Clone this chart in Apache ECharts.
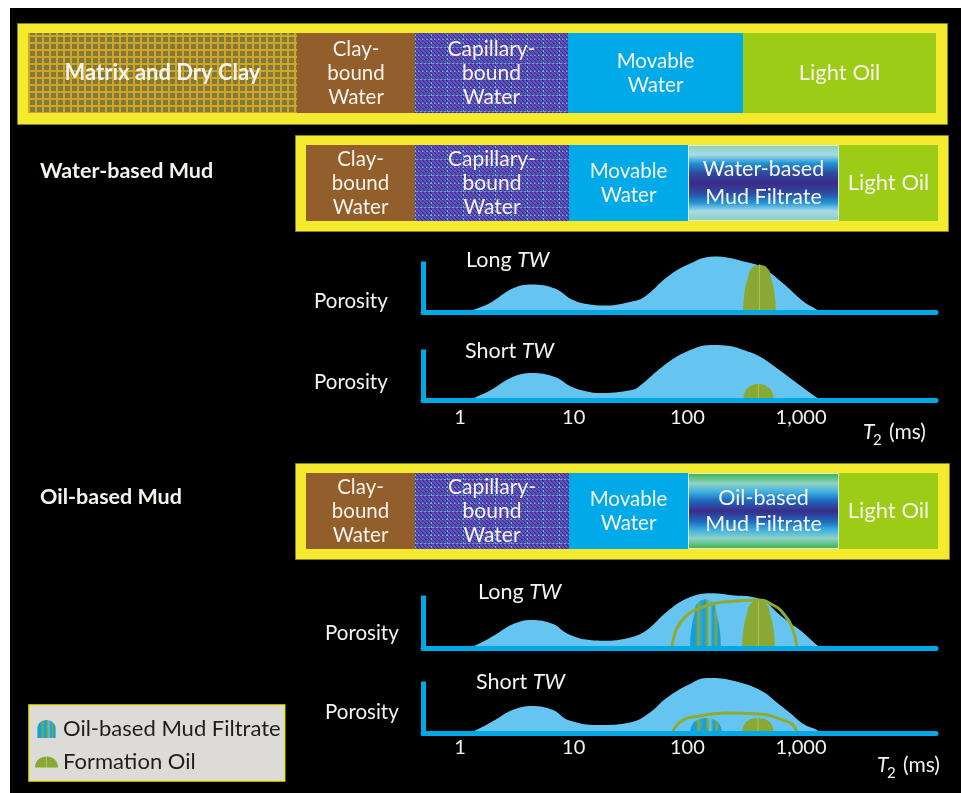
<!DOCTYPE html>
<html><head><meta charset="utf-8">
<script src="https://cdn.jsdelivr.net/npm/echarts@6.0.0/dist/echarts.min.js"></script>
<style>html,body{margin:0;padding:0;background:#fff;}#c{width:961px;height:793px;}</style>
</head><body><div id="c"></div>
<script>
// ================= DATA =================
const topSegments = ['Matrix and Dry Clay', 'Clay-\nbound\nWater', 'Capillary-\nbound\nWater', 'Movable\nWater', 'Light Oil'];
const topWidths = [269, 118, 153, 175, 193];
const wbmSegments = ['Clay-\nbound\nWater', 'Capillary-\nbound\nWater', 'Movable\nWater', 'Water-based\nMud Filtrate', 'Light Oil'];
const wbmWidths = [109, 154, 119, 151, 99];
const obmSegments = ['Clay-\nbound\nWater', 'Capillary-\nbound\nWater', 'Movable\nWater', 'Oil-based\nMud Filtrate', 'Light Oil'];
const obmWidths = [109, 154, 119, 151, 99];

const tickValues = [1, 10, 100, 1000];
const tickLabels = ['1', '10', '100', '1,000'];

// T2 (ms), porosity (relative units)
const wbmLongPorosity = [[1.17,0],[1.45,4],[1.87,9.5],[2.9,23.5],[4.28,27.5],[6.85,23.5],[9.66,12.5],[13.8,7.5],[19.5,6.5],[32.6,10.5],[42.4,15.5],[65.5,34.5],[101,47.5],[170,55.5],[237,54],[312,50.5],[441,45.5],[680,29.5],[1050,10.5],[1350,3],[1500,0]];
const wbmShortPorosity = [[1.17,0],[1.45,4],[1.87,10],[2.9,23],[4.28,27],[6.85,23],[9.66,13],[13.8,8],[16.4,7],[32.6,10],[39,15],[59.8,33],[92.8,47],[163,55],[237,54],[312,50],[441,43],[679,28],[1050,12],[1352,3],[1500,0]];
const obmLongPorosity = [[1.17,0],[1.45,4],[2.03,13],[2.9,23.7],[4.28,28],[6.58,24],[8.91,14],[13.8,8],[19.5,7.3],[32.6,11],[44.1,18],[65.5,36],[101,50],[163,54.7],[237,53],[435,49],[652,33],[799,25],[978,18],[1380,3],[1500,0]];
const obmShortPorosity = [[1.17,0],[1.45,4],[2.03,13],[2.9,23],[4.28,27],[6.58,23],[8.91,13],[16.4,8],[32.6,11],[46.3,20],[65.5,35],[101,48],[148.7,55],[237,53],[435,43],[652,28],[799,20],[1050,9],[1380,3],[1500,0]];

const wbmLongOil = [[308,0],[312,12],[322,24],[340,34],[352,41.5],[385,46],[431,47.5],[483,46],[527,41.5],[546,34],[575,24],[594,12],[601,0]];
const wbmShortOil = [[308,0],[315,6],[334,11.5],[370,15],[422,16.5],[481,15],[533,11.5],[566,6],[578,0]];
const obmLongFiltrate = [[105.4,0],[106.7,12.7],[110,24.5],[115.5,34.6],[117.8,42.4],[129.1,47.3],[144.3,49],[161.3,47.3],[176.6,42.4],[180.3,34.6],[189.2,24.5],[195.1,12.7],[197.5,0]];
const obmLongOil = [[302,0],[306,12.4],[316,24],[333,34],[345,41.5],[378,46.4],[422,48],[472,46.4],[517,41.5],[535,34],[564,24],[583,12.4],[589,0]];
const obmShortFiltrate = [[105.4,0],[107.6,6],[114.3,11],[126.5,14],[145.7,15],[168,14],[185.8,11],[197.5,6],[201.5,0]];
const obmShortOil = [[302,0],[308,6],[328,11],[362,14],[418,15],[481,14],[533,11],[566,6],[578,0]];
const obmLongArc = [[73.2,0],[77.8,15],[86.1,25],[105.4,35],[137.2,41],[182,45],[273,47],[418,48],[566,43],[693,35],[832,21],[920,0]];
const obmShortArc = [[73.2,0],[91.5,13],[129.1,17],[223,20],[435,19],[693,13],[849,8],[920,0]];

// ================= STYLE =================
const FONT = 'Lato';
const WHITE = '#f6f3ec';
const BLUE_AXIS = '#00a8e6';
const BLUE_FILL = '#66c5f0';
const OIL = '#8aa834';
const XMIN = 0.4727, XMAX = 15370;

function matrixPattern() {
  const c = document.createElement('canvas'); c.width = 7; c.height = 7;
  const g = c.getContext('2d');
  g.fillStyle = '#7d7a3d'; g.fillRect(0, 0, 7, 7);
  g.fillStyle = '#d4a322'; g.fillRect(0, 0, 7, 2); g.fillRect(0, 0, 2, 7);
  return c;
}
function capillaryPattern() {
  const c = document.createElement('canvas'); c.width = 16; c.height = 16;
  const g = c.getContext('2d');
  g.fillStyle = '#34218a'; g.fillRect(0, 0, 16, 16);
  g.strokeStyle = '#6258bb'; g.lineWidth = 2;
  for (let k = -16; k <= 32; k += 4) { g.beginPath(); g.moveTo(k, 0); g.lineTo(k + 16, 16); g.stroke(); }
  g.fillStyle = 'rgba(95,215,215,0.75)';
  for (let k = 0; k < 16; k += 4) { g.fillRect(k, 15, 2, 1); g.fillRect(15, k + 2, 1, 2); g.fillRect(k + 2, 7, 1.5, 1); }
  return c;
}
const G = echarts.graphic;
const wbmFiltrateFill = new G.LinearGradient(0, 0, 0, 1, [
  {offset: 0, color: '#8ecfb6'}, {offset: 0.13, color: '#a6dbe8'}, {offset: 0.24, color: '#1f95d6'},
  {offset: 0.36, color: '#2d4da3'}, {offset: 0.5, color: '#3b2a88'}, {offset: 0.64, color: '#2d4da3'},
  {offset: 0.76, color: '#1f95d6'}, {offset: 0.87, color: '#a6dbe8'}, {offset: 1, color: '#8ecfb6'}]);
const obmFiltrateFill = new G.LinearGradient(0, 0, 0, 1, [
  {offset: 0, color: '#39b24a'}, {offset: 0.14, color: '#8fd2c4'}, {offset: 0.25, color: '#3fb0e2'},
  {offset: 0.36, color: '#1c6cbf'}, {offset: 0.5, color: '#3b2a88'}, {offset: 0.64, color: '#1c6cbf'},
  {offset: 0.75, color: '#3fb0e2'}, {offset: 0.86, color: '#8fd2c4'}, {offset: 1, color: '#39b24a'}]);
function stripeFill() {
  return new G.LinearGradient(0, 0, 1, 0, [
    {offset: 0, color: '#129fdc'}, {offset: 0.16, color: '#129fdc'}, {offset: 0.27, color: '#84a83c'},
    {offset: 0.36, color: '#2aa6d8'}, {offset: 0.46, color: '#0ea0de'}, {offset: 0.56, color: '#86a83a'},
    {offset: 0.64, color: '#5fc2e6'}, {offset: 0.74, color: '#129fdc'}, {offset: 0.84, color: '#88a838'},
    {offset: 0.92, color: '#129fdc'}, {offset: 1, color: '#129fdc'}]);
}
function oilFill() {
  return new G.LinearGradient(0, 0, 1, 0, [
    {offset: 0, color: OIL}, {offset: 0.47, color: OIL}, {offset: 0.5, color: '#a9c360'},
    {offset: 0.53, color: OIL}, {offset: 1, color: OIL}]);
}
const S = {
  matrix: {itemStyle: {color: {image: matrixPattern(), repeat: 'repeat'}}, bold: true, fontSize: 22},
  clay: {itemStyle: {color: '#925e2c'}, fontSize: 20.5, lineHeight: 24},
  capillary: {itemStyle: {color: {image: capillaryPattern(), repeat: 'repeat'}}, fontSize: 21, lineHeight: 24},
  movable: {itemStyle: {color: '#00a9e8'}, fontSize: 20.5, lineHeight: 24},
  oil: {itemStyle: {color: '#9dcc16'}, fontSize: 22},
  wbmf: {itemStyle: {color: wbmFiltrateFill, borderColor: '#d8eede', borderWidth: 1}, fontSize: 21.5, lineHeight: 28},
  obmf: {itemStyle: {color: obmFiltrateFill, borderColor: '#d8eede', borderWidth: 1}, fontSize: 21.5, lineHeight: 26},
};
const topStyles = [S.matrix, S.clay, S.capillary, S.movable, S.oil];
const wbmStyles = [S.clay, S.capillary, S.movable, S.wbmf, S.oil];
const obmStyles = [S.clay, S.capillary, S.movable, S.obmf, S.oil];

// ================= LAYOUT =================
const grids = [
  {left: 28, top: 33, width: 908, height: 80},    // 0 top bar
  {left: 306, top: 145, width: 632, height: 76},  // 1 WBM bar
  {left: 306, top: 473, width: 632, height: 76},  // 2 OBM bar
  {left: 423, top: 264, width: 513, height: 48},  // 3 WBM long
  {left: 423, top: 352, width: 513, height: 48},  // 4 WBM short
  {left: 423, top: 598, width: 513, height: 50},  // 5 OBM long
  {left: 423, top: 684, width: 513, height: 49},  // 6 OBM short
];
const xAxes = [], yAxes = [], series = [];
[topWidths, wbmWidths, obmWidths].forEach((w, i) => {
  xAxes.push({gridIndex: i, type: 'value', min: 0, max: w.reduce((a, b) => a + b, 0), show: false});
  yAxes.push({gridIndex: i, type: 'category', data: ['row'], show: false});
});
function tickFmt(v) {
  const i = tickValues.findIndex(t => Math.abs(t - v) / t < 1e-6);
  return i >= 0 ? tickLabels[i] : '';
}
[3, 4, 5, 6].forEach(gi => {
  const showLabels = gi === 4 || gi === 6;
  xAxes.push({
    gridIndex: gi, type: 'log', logBase: 10, min: XMIN, max: XMAX, z: 10,
    axisLine: {show: true, onZero: false, lineStyle: {color: BLUE_AXIS, width: 5}},
    axisTick: {show: false}, splitLine: {show: false},
    axisLabel: {show: showLabels, customValues: tickValues, formatter: tickFmt, color: WHITE,
      fontFamily: FONT, fontSize: 20, margin: gi === 4 ? 8 : 5}
  });
  yAxes.push({
    gridIndex: gi, type: 'value', min: 0, max: grids[gi].height, z: 10,
    axisLine: {show: true, onZero: false, lineStyle: {color: BLUE_AXIS, width: 5, cap: 'square'}},
    axisTick: {show: false}, splitLine: {show: false}, axisLabel: {show: false}
  });
});

function addBars(names, widths, styles, gi) {
  names.forEach((n, i) => {
    const st = styles[i];
    series.push({
      type: 'bar', name: n, xAxisIndex: gi, yAxisIndex: gi, stack: 'row' + gi,
      barWidth: '100%', data: [widths[i]], silent: true, itemStyle: st.itemStyle,
      label: {show: true, position: 'inside', formatter: n, color: WHITE, fontFamily: FONT,
        fontSize: st.fontSize || 20, fontWeight: st.bold ? 'bold' : 'normal', lineHeight: st.lineHeight || 24}
    });
  });
}
addBars(topSegments, topWidths, topStyles, 0);
addBars(wbmSegments, wbmWidths, wbmStyles, 1);
addBars(obmSegments, obmWidths, obmStyles, 2);

function area(name, data, gi, color, z, smooth) {
  series.push({type: 'line', name, data, xAxisIndex: gi, yAxisIndex: gi, smooth: smooth, symbol: 'none',
    clip: false, silent: true, z, lineStyle: {width: 0}, areaStyle: {color, opacity: 1}});
}
function arc(data, gi) {
  series.push({type: 'line', name: 'Oil envelope', data, xAxisIndex: gi, yAxisIndex: gi, smooth: 0.5,
    symbol: 'none', clip: false, silent: true, z: 6, lineStyle: {color: '#8fab2e', width: 3}});
}
area('T2 distribution', wbmLongPorosity, 3, BLUE_FILL, 2, 0.4);
area('T2 distribution', wbmShortPorosity, 4, BLUE_FILL, 2, 0.4);
area('T2 distribution', obmLongPorosity, 5, BLUE_FILL, 2, 0.4);
area('T2 distribution', obmShortPorosity, 6, BLUE_FILL, 2, 0.4);
area('Formation Oil', wbmLongOil, 3, oilFill(), 4, false);
area('Formation Oil', wbmShortOil, 4, oilFill(), 4, false);
area('Oil-based Mud Filtrate', obmLongFiltrate, 5, stripeFill(), 4, false);
area('Formation Oil', obmLongOil, 5, oilFill(), 4, false);
area('Oil-based Mud Filtrate', obmShortFiltrate, 6, stripeFill(), 4, false);
area('Formation Oil', obmShortOil, 6, oilFill(), 4, false);
arc(obmLongArc, 5);
arc(obmShortArc, 6);

// ================= STATIC GRAPHICS =================
function txt(x, y, text, opts) {
  opts = opts || {};
  return {type: 'text', x, y, z: 100, silent: true, style: Object.assign({
    text, fill: WHITE, fontFamily: FONT, fontSize: 20.5, fontWeight: 'normal',
    align: 'left', verticalAlign: 'middle', textAlign: 'left', textVerticalAlign: 'middle'}, opts)};
}
function twLabel(x, y, word) {
  return txt(x, y, '{r|' + word + ' }{i|TW}', {rich: {
    r: {fontFamily: FONT, fontSize: 21.5, fill: WHITE},
    i: {fontFamily: FONT, fontSize: 21.5, fontStyle: 'italic', fill: WHITE}}});
}
function frame(x, y, w, h) {
  return {type: 'rect', z: -50, silent: true, shape: {x, y, width: w, height: h},
    style: {fill: '#f4eb2e', stroke: '#85821f', lineWidth: 1}};
}
const graphics = [
  {type: 'rect', z: -100, silent: true, shape: {x: 10, y: 8, width: 951, height: 785}, style: {fill: '#000'}},
  frame(17.5, 23.5, 930, 101), frame(295.5, 135.5, 653, 96), frame(295.5, 463.5, 654, 96),
  txt(40, 171, 'Water-based Mud', {fontWeight: 'bold', fontSize: 21.5}),
  txt(40, 497, 'Oil-based Mud', {fontWeight: 'bold', fontSize: 21.5}),
  txt(314, 301, 'Porosity'), txt(314, 382, 'Porosity'), txt(325, 633, 'Porosity'), txt(325, 712, 'Porosity'),
  twLabel(466, 260, 'Long'), twLabel(465, 351, 'Short'), twLabel(478, 592, 'Long'), twLabel(476, 682, 'Short'),
  txt(863, 432, 'T', {fontStyle: 'italic', fontSize: 21}), txt(873, 440, '2', {fontSize: 15}), txt(889, 432, '(ms)', {fontSize: 21}),
  txt(877, 765, 'T', {fontStyle: 'italic', fontSize: 21}), txt(887, 773, '2', {fontSize: 15}), txt(903, 765, '(ms)', {fontSize: 21}),
];

const chart = echarts.init(document.getElementById('c'), null, {renderer: 'canvas'});
chart.setOption({
  backgroundColor: '#ffffff',
  animation: false,
  grid: grids.map(g => Object.assign({containLabel: false}, g)),
  xAxis: xAxes, yAxis: yAxes, series,
  legend: {
    show: true, orient: 'vertical', left: 29, top: 705, selectedMode: false,
    backgroundColor: '#dddbd7', borderColor: '#ece42a', borderWidth: 1.5,
    padding: [13, 4, 8, 6], itemGap: 11, itemWidth: 23, itemHeight: 18,
    textStyle: {color: '#1e1e1e', fontFamily: FONT, fontSize: 22, lineHeight: 22},
    data: [
      {name: 'Oil-based Mud Filtrate', icon: 'path://M0,20 L0,10 C0,-3 20,-3 20,10 L20,20 Z', itemStyle: {color: stripeFill()}},
      {name: 'Formation Oil', icon: 'path://M0,12 C0,-3 24,-3 24,12 Z', itemStyle: {color: oilFill()}}
    ]
  },
  graphic: graphics
});
</script></body></html>
